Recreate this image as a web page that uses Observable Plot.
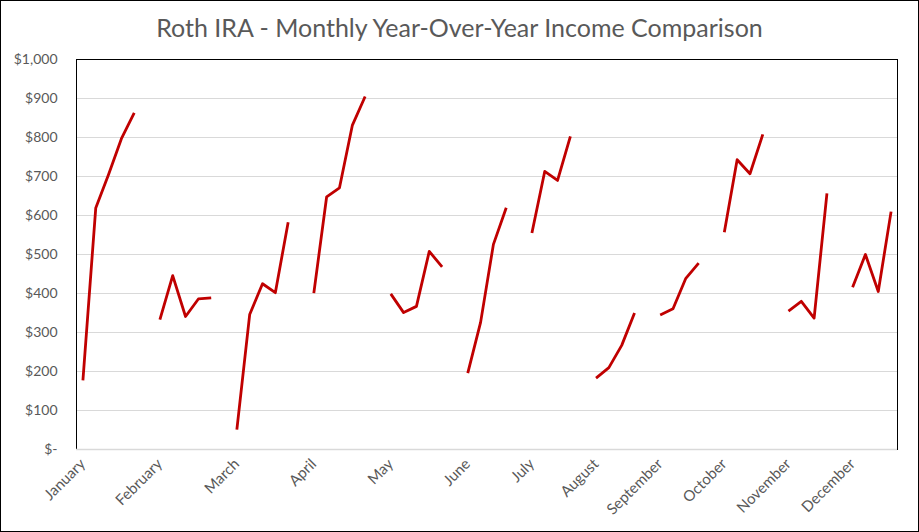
<!DOCTYPE html>
<html>
<head>
<meta charset="utf-8">
<script src="https://cdn.jsdelivr.net/npm/d3@7"></script>
<script src="https://cdn.jsdelivr.net/npm/@observablehq/plot@0.6"></script>
<style>
  html, body { margin: 0; padding: 0; background: #fff; }
  #wrap { position: relative; width: 919px; height: 532px; overflow: hidden; background: #fff; font-family: Lato, "Open Sans", sans-serif; }
  #border { position: absolute; left: 0; top: 0; width: 919px; height: 532px; box-sizing: border-box; border: 1px solid #000; pointer-events: none; }
  #title { height: 45px; line-height: 55px; text-align: center; font-size: 25px; color: #595959; }
</style>
</head>
<body>
<div id="wrap">
  <div id="title">Roth IRA - Monthly Year-Over-Year Income Comparison</div>
  <div id="chart"></div>
  <div id="border"></div>
</div>
<script>
// Month labels
const months = ["January", "February", "March", "April", "May", "June",
  "July", "August", "September", "October", "November", "December"];

// Income per month, one value per year (oldest first)
const january   = [177, 619, 705, 797, 863];
const february  = [333, 446, 341, 386, 389];
const march     = [51, 346, 425, 402, 583];
const april     = [401, 648, 671, 831, 905];
const may       = [399, 351, 367, 508, 468];
const june      = [196, 326, 526, 620];
const july      = [555, 713, 690, 803];
const august    = [183, 210, 267, 350];
const september = [345, 361, 439, 478];
const october   = [557, 743, 707, 808];
const november  = [355, 380, 337, 657];
const december  = [416, 500, 405, 610];

const monthValues = [january, february, march, april, may, june,
  july, august, september, october, november, december];

// Y tick values
const yTicks = [0, 100, 200, 300, 400, 500, 600, 700, 800, 900, 1000];

// Build rows: each month is a group of consecutive category slots, followed by one empty slot
const rows = [];
const groupStarts = [];
let slot = 0;
monthValues.forEach((vals, m) => {
  groupStarts.push(slot);
  vals.forEach((v, i) => rows.push({ month: months[m], slot: slot + i, value: v }));
  slot += vals.length + 1;
});
const lastSlot = slot - 2;
const startLabel = new Map(groupStarts.map((s, i) => [s, months[i]]));

const fmt = d3.format(",");
const chart = Plot.plot({
  width: 919,
  height: 487,
  marginTop: 14,
  marginBottom: 83,
  marginLeft: 76,
  marginRight: 22,
  style: { fontFamily: "Lato, 'Open Sans', sans-serif", fontSize: "14px", color: "#595959", background: "#fff" },
  x: { domain: [-0.5, lastSlot + 0.5] },
  y: { domain: [0, 1000] },
  marks: [
    Plot.ruleY(yTicks.filter(d => d > 0 && d < 1000), { stroke: "#d9d9d9", strokeWidth: 1 }),
    Plot.frame({ stroke: "#000", strokeWidth: 1 }),
    Plot.ruleY([0], { stroke: "#d9d9d9", strokeWidth: 1.5 }),
    Plot.axisY({
      ticks: yTicks, tickSize: 0, tickPadding: 19, label: null,
      tickFormat: d => d === 0 ? "$-" : "$" + fmt(d), fill: "#595959", fontSize: 14
    }),
    Plot.axisX({
      ticks: groupStarts, tickSize: 0, tickPadding: 12, tickRotate: -45, label: null,
      tickFormat: d => startLabel.get(d), fill: "#595959", fontSize: 15
    }),
    Plot.line(rows, {
      x: "slot", y: "value", z: "month",
      stroke: "#c00000", strokeWidth: 2.8, strokeLinejoin: "round", strokeLinecap: "butt"
    })
  ]
});
document.getElementById("chart").appendChild(chart);
</script>
</body>
</html>
